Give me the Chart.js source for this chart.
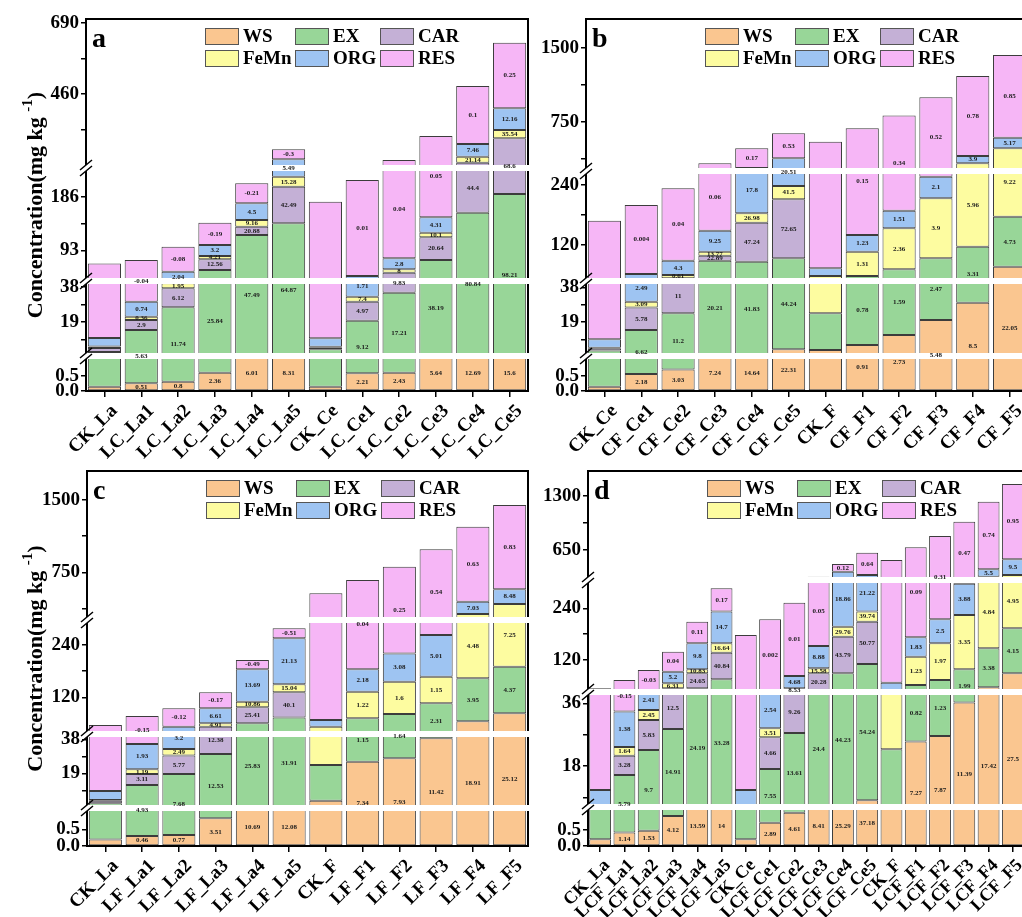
<!DOCTYPE html>
<html>
<head>
<meta charset="utf-8">
<script src="https://cdn.jsdelivr.net/npm/chart.js@4.4.1/dist/chart.umd.min.js"></script>
<style>
  html, body { margin: 0; padding: 0; background: #fff; overflow: hidden; width: 1022px; height: 917px; position: relative; }
  canvas { position: absolute; }
</style>
</head>
<body>
<canvas id="pa" width="545" height="460" style="left:0;top:0"></canvas>
<canvas id="pb" width="545" height="460" style="left:500px;top:0"></canvas>
<canvas id="pc" width="545" height="465" style="left:0;top:452px"></canvas>
<canvas id="pd" width="545" height="465" style="left:500px;top:452px"></canvas>
<script>
// fractions, bottom to top of each bar
const seriesNames = ['WS', 'EX', 'CAR', 'FeMn', 'ORG', 'RES'];
const seriesColors = ['#FAC690', '#98D698', '#C4B0D6', '#FDFCA0', '#9EC4F2', '#F6B6F6'];

// ---- panel a
const aCats = ['CK_La', 'LC_La1', 'LC_La2', 'LC_La3', 'LC_La4', 'LC_La5', 'CK_Ce', 'LC_Ce1', 'LC_Ce2', 'LC_Ce3', 'LC_Ce4', 'LC_Ce5'];
const aWS   = [0.14, 0.26, 0.31, 0.61, 1.16, 1.16, 0.14, 0.59, 0.61, 1.16, 1.16, 1.16];
const aEX   = [2.6, 14.4, 26.7, 58.5, 118.8, 139.1, 4.1, 19.1, 34.3, 75.3, 157.5, 190.1];
const aCAR  = [2.2, 5.4, 10.3, 18.6, 14.4, 63.7, 1.1, 10.3, 19.5, 39.5, 78.8, 125.2];
const aFeMn = [0.8, 1.8, 2.7, 5.7, 11.6, 17.3, 0.2, 2.7, 5.9, 8, 19.4, 26.9];
const aORG  = [4.6, 8.1, 16.1, 19.2, 29, 27.2, 4.7, 16, 19.1, 26.7, 41.1, 70.3];
const aRES  = [59.9, 46.5, 43.5, 38.7, 34.9, 32.5, 167.7, 166.9, 166.8, 173.3, 188, 212.5];
const aTxtWS   = [null, 0.51, 0.8, 2.36, 6.01, 8.31, null, 2.21, 2.43, 5.64, 12.69, 15.6];
const aTxtEX   = [null, 5.63, 11.74, 25.84, 47.49, 64.87, null, 9.12, 17.21, 38.19, 80.84, 98.21];
const aTxtCAR  = [null, 2.9, 6.12, 12.56, 20.88, 42.49, null, 4.97, 9.83, 20.64, 44.4, 68.6];
const aTxtFeMn = [null, 0.36, 1.95, 4.21, 9.16, 15.28, null, 7.4, 8, 10.1, 21.14, 35.54];
const aTxtORG  = [null, 0.74, 2.04, 3.2, 4.5, 5.49, null, 1.71, 2.8, 4.31, 7.46, 12.16];
const aTxtRES  = [null, -0.04, -0.08, -0.19, -0.21, -0.3, null, 0.01, 0.04, 0.05, 0.1, 0.25];
const aTicks = [0, 0.5, 19, 38, 93, 186, 460, 690];
const aTickText = ['0.0', '0.5', '19', '38', '93', '186', '460', '690'];
const aMinor = [9.5, 28.5, 139.5, 345, 575];

// ---- panel b
const bCats = ['CK_Ce', 'CF_Ce1', 'CF_Ce2', 'CF_Ce3', 'CF_Ce4', 'CF_Ce5', 'CK_F', 'CF_F1', 'CF_F2', 'CF_F3', 'CF_F4', 'CF_F5'];
const bWS   = [0.14, 0.57, 0.72, 1.16, 1.16, 4.05, 3.7, 6.4, 11.9, 20.1, 29.6, 76.6];
const bEX   = [3.2, 14.0, 23.1, 87.4, 85.4, 89.4, 20.1, 51.6, 59.5, 73.3, 87, 100];
const bCAR  = [1.3, 12.4, 29.6, 10, 78, 118, null, null, null, null, null, null];
const bFeMn = [0.3, 3.1, 6.6, 8, 18.8, 26.6, 34.2, 48.6, 82, 120, 215, 306.9];
const bORG  = [4.6, 31.9, 28.6, 42, 100.6, 144, 15.4, 33.4, 35.2, 43.2, 74, 107.5];
const bRES  = [159.1, 138, 144.8, 183, 199.5, 253.5, 477, 546, 626.4, 744.4, 810.4, 839];
const bTxtWS   = [null, 2.18, 3.03, 7.24, 14.64, 22.31, null, 0.91, 2.73, 5.48, 8.5, 22.05];
const bTxtEX   = [null, 6.62, 11.2, 20.21, 41.83, 44.24, null, 0.78, 1.59, 2.47, 3.31, 4.73];
const bTxtCAR  = [null, 5.78, 11, 22.89, 47.24, 72.65, null, null, null, null, null, null];
const bTxtFeMn = [null, 3.09, 0.61, 13.77, 26.98, 41.5, null, 1.31, 2.36, 3.9, 5.96, 9.22];
const bTxtORG  = [null, 2.49, 4.3, 9.25, 17.8, 20.51, null, 1.23, 1.51, 2.1, 3.9, 5.17];
const bTxtRES  = [null, 0.004, 0.04, 0.06, 0.17, 0.53, null, 0.15, 0.34, 0.52, 0.78, 0.85];
const bTicks = [0, 0.5, 19, 38, 120, 240, 750, 1500];
const bTickText = ['0.0', '0.5', '19', '38', '120', '240', '750', '1500'];
const bMinor = [9.5, 28.5, 180, 375, 1125];

// ---- panel c
const cCats = ['CK_La', 'LF_La1', 'LF_La2', 'LF_La3', 'LF_La4', 'LF_La5', 'CK_F', 'LF_F1', 'LF_F2', 'LF_F3', 'LF_F4', 'LF_F5'];
const cWS   = [0.2, 0.3, 0.33, 0.84, 1.14, 1.14, 3.7, 25.5, 27.4, 38.6, 64.8, 83.3];
const cEX   = [2.0, 12.2, 18.3, 29, 59.3, 72.6, 19.9, 46.3, 54.3, 67.6, 98.8, 106.8];
const cCAR  = [1.5, 6.1, 10.3, 22.8, 36.6, 57.8, null, null, null, null, null, null];
const cFeMn = [0.4, 2.6, 3.7, 7.8, 12.9, 18.3, 29, 61, 74.1, 61.1, 153.8, 231.1];
const cORG  = [5.0, 14.2, 20, 34.4, 74.3, 105.6, 15.4, 51.4, 64.8, 95.7, 127.9, 152.4];
const cRES  = [47.4, 41.7, 42.2, 36.7, 21.4, 22.9, 464.2, 485.9, 587.4, 725.6, 777.7, 874.4];
const cTxtWS   = [null, 0.46, 0.77, 3.51, 10.69, 12.08, null, 7.34, 7.93, 11.42, 18.91, 25.12];
const cTxtEX   = [null, 4.93, 7.68, 12.53, 25.83, 31.91, null, 1.15, 1.64, 2.31, 3.95, 4.37];
const cTxtCAR  = [null, 3.11, 5.77, 12.38, 25.41, 40.1, null, null, null, null, null, null];
const cTxtFeMn = [null, 1.19, 2.49, 4.91, 10.86, 15.04, null, 1.22, 1.6, 1.15, 4.48, 7.25];
const cTxtORG  = [null, 1.93, 3.2, 6.61, 13.69, 21.13, null, 2.18, 3.08, 5.01, 7.03, 8.48];
const cTxtRES  = [null, -0.15, -0.12, -0.17, -0.49, -0.51, null, 0.04, 0.25, 0.54, 0.63, 0.83];
const cTicks = [0, 0.5, 19, 38, 120, 240, 750, 1500];
const cTickText = ['0.0', '0.5', '19', '38', '120', '240', '750', '1500'];
const cMinor = [9.5, 28.5, 180, 375, 1125];

// ---- panel d
const dCats = ['CK_La', 'LCF_La1', 'LCF_La2', 'LCF_La3', 'LCF_La4', 'LCF_La5', 'CK_Ce', 'LCF_Ce1', 'LCF_Ce2', 'LCF_Ce3', 'LCF_Ce4', 'LCF_Ce5', 'CK_F', 'LCF_F1', 'LCF_F2', 'LCF_F3', 'LCF_F4', 'LCF_F5'];
const dWS   = [0.21, 0.42, 0.48, 0.94, 1.21, 1.21, 0.21, 0.73, 1.04, 1.21, 1.21, 8.2, 1.21, 25, 26.6, 36.2, 56.6, 89];
const dEX   = [6.0, 15, 22.1, 27.7, 53.1, 74, 6.0, 16.4, 26.4, 44.8, 87.8, 102.5, 21.6, 37, 47, 62.2, 90.6, 104.5];
const dCAR  = [null, 5.5, 8.6, 25.7, 34.7, 61.8, null, 9.1, 18.3, 43, 85.1, 98.3, null, null, null, null, null, null];
const dFeMn = [null, 2.5, 2.9, 11.6, 9.4, 21.8, null, 2.6, 8.6, 11.6, 23.2, 23.3, 22.9, 65.7, 85.2, 126.1, 181.5, 155.5];
const dORG  = [4.9, 10.2, 16.3, 26.9, 60.4, 73.5, 4.9, 10.4, 28.6, 51.9, 191.6, 116.7, 21.6, 45, 55.7, 72.5, 89, 189.1];
const dRES  = [43.2, 40, 46.4, 46.5, 50.2, 54.1, 166.9, 175.3, 170.1, 176.2, 92.6, 268.5, 462.4, 509.8, 604, 693.6, 813.3, 905.9];
const dTxtWS   = [null, 1.14, 1.53, 4.12, 13.59, 14, null, 2.89, 4.61, 8.41, 25.29, 37.18, null, 7.27, 7.87, 11.39, 17.42, 27.5];
const dTxtEX   = [null, 5.79, 9.7, 14.91, 24.19, 33.28, null, 7.55, 13.61, 24.4, 44.23, 54.24, null, 0.82, 1.23, 1.99, 3.38, 4.15];
const dTxtCAR  = [null, 3.28, 5.83, 12.5, 24.65, 40.84, null, 4.66, 9.26, 20.28, 43.79, 50.77, null, null, null, null, null, null];
const dTxtFeMn = [null, 1.64, 2.45, 6.31, 10.83, 16.64, null, 3.51, 8.53, 15.58, 29.76, 39.74, null, 1.23, 1.97, 3.35, 4.84, 4.95];
const dTxtORG  = [null, 1.38, 2.41, 5.2, 9.8, 14.7, null, 2.54, 4.68, 8.88, 18.86, 21.22, null, 1.83, 2.5, 3.88, 5.5, 9.5];
const dTxtRES  = [null, -0.15, -0.03, 0.04, 0.11, 0.17, null, 0.002, 0.01, 0.05, 0.12, 0.64, null, 0.09, 0.31, 0.47, 0.74, 0.95];
const dTicks = [0, 0.5, 18, 36, 120, 240, 650, 1300];
const dTickText = ['0.0', '0.5', '18', '36', '120', '240', '650', '1300'];
const dMinor = [9, 27, 180, 975];

// broken axis layout: each piece maps two tick values to pixel offsets from the plot top,
// and is cut to [hi, lo]
const brokenAxes = {
  a: { span: 372, segs: [
    { v0: 0, p0: 372, v1: 0.5, p1: 357, lo: 372, hi: 337 },
    { v0: 19, p0: 303, v1: 38, p1: 268, lo: 337, hi: 262 },
    { v0: 93, p0: 231.5, v1: 186, p1: 178, lo: 262, hi: 149 },
    { v0: 460, p0: 75, v1: 690, p1: 4, lo: 149, hi: 0 }] },
  b: { span: 372, segs: [
    { v0: 0, p0: 372, v1: 0.5, p1: 357, lo: 372, hi: 337 },
    { v0: 19, p0: 303, v1: 38, p1: 268.3, lo: 337, hi: 262 },
    { v0: 120, p0: 226, v1: 240, p1: 166, lo: 262, hi: 152 },
    { v0: 750, p0: 103, v1: 1500, p1: 29, lo: 152, hi: 0 }] },
  c: { span: 375, segs: [
    { v0: 0, p0: 375, v1: 0.5, p1: 358.5, lo: 375, hi: 337 },
    { v0: 19, p0: 302.3, v1: 38, p1: 268.3, lo: 337, hi: 263 },
    { v0: 120, p0: 226.3, v1: 240, p1: 174, lo: 263, hi: 149 },
    { v0: 750, p0: 101.3, v1: 1500, p1: 29, lo: 149, hi: 0 }] },
  d: { span: 375, segs: [
    { v0: 0, p0: 375, v1: 0.5, p1: 359, lo: 375, hi: 336 },
    { v0: 18, p0: 295, v1: 36, p1: 232.3, lo: 336, hi: 221 },
    { v0: 120, p0: 189, v1: 240, p1: 137.3, lo: 221, hi: 109 },
    { v0: 650, p0: 79, v1: 1300, p1: 25, lo: 109, hi: 0 }] }
};
Object.values(brokenAxes).forEach(function(ax) {
  ax.segs.forEach(function(s) {
    s.vmax = s.v0 + (s.hi - s.p0) * (s.v1 - s.v0) / (s.p1 - s.p0);
  });
});

class BrokenScale extends Chart.LinearScale {
  static id = 'broken';
  static defaults = {};
  buildTicks() {
    const o = this.options;
    const vals = o.majorTicks.concat(o.minorTicks).slice().sort((p, q) => p - q);
    return vals.map(v => ({ value: v }));
  }
  getPixelForValue(value) {
    const ax = brokenAxes[this.options.panel];
    let g = ax.segs[ax.segs.length - 1];
    for (const s of ax.segs) { if (value <= s.vmax) { g = s; break; } }
    let p = g.p0 + (value - g.v0) * (g.p1 - g.p0) / (g.v1 - g.v0);
    p = Math.min(g.lo, Math.max(g.hi, p));
    return this.top + p * (this.bottom - this.top) / ax.span;
  }
}
Chart.register(BrokenScale);

const serif = 'Liberation Serif';

const panelDeco = {
  id: 'panelDeco',
  afterDatasetsDraw(chart, args, opts) {
    const ctx = chart.ctx;
    const ca = chart.chartArea;
    const ys = chart.scales.y;
    const ax = brokenAxes[ys.options.panel];
    ctx.save();

    // frame
    ctx.strokeStyle = '#000';
    ctx.lineWidth = 2;
    ctx.strokeRect(ca.left, ca.top, ca.right - ca.left, ca.bottom - ca.top);

    // white gaps of the broken axis and the // marks
    for (let k = 0; k < ax.segs.length - 1; k++) {
      const y = ys.top + ax.segs[k].hi;
      ctx.fillStyle = '#fff';
      ctx.fillRect(ca.left - 2, y - 3, ca.right - ca.left + 4, 6);
      ctx.beginPath();
      [-3, 3].forEach(function(d) {
        ctx.moveTo(ca.left - 6, y + d + 5);
        ctx.lineTo(ca.left + 6, y + d - 5);
      });
      ctx.strokeStyle = '#000';
      ctx.lineWidth = 1.5;
      ctx.stroke();
    }

    // numbers inside the segments
    ctx.font = 'bold 7px "' + serif + '"';
    ctx.fillStyle = '#1a1a1a';
    ctx.textAlign = 'center';
    ctx.textBaseline = 'middle';
    chart.data.datasets.forEach(function(ds, i) {
      const meta = chart.getDatasetMeta(i);
      meta.data.forEach(function(bar, j) {
        const t = ds.txt[j];
        if (t === null || t === undefined) return;
        ctx.fillText(String(t), bar.x, (bar.y + bar.base) / 2);
      });
    });

    // legend, 3 columns x 2 rows inside the plot
    const cols = [119, 209, 294];
    ctx.font = 'bold 19px "' + serif + '"';
    ctx.textAlign = 'left';
    chart.data.datasets.forEach(function(ds, i) {
      const x = ca.left + cols[i % 3];
      const y = ca.top + 9 + Math.floor(i / 3) * 22;
      ctx.fillStyle = ds.backgroundColor;
      ctx.fillRect(x, y, 33, 16);
      ctx.strokeStyle = '#555';
      ctx.lineWidth = 1;
      ctx.strokeRect(x + 0.5, y + 0.5, 33, 16);
      ctx.fillStyle = '#000';
      ctx.fillText(ds.label, x + 38, y + 9);
    });

    // panel letter
    ctx.font = 'bold 28px "' + serif + '"';
    ctx.textBaseline = 'alphabetic';
    ctx.fillText(opts.letter, ca.left + 6, ca.top + 28);

    // y title with superscript
    if (opts.yTitle) {
      ctx.translate(34, (ca.top + ca.bottom) / 2);
      ctx.rotate(-Math.PI / 2);
      const f1 = 'bold 22px "' + serif + '"';
      const f2 = 'bold 15px "' + serif + '"';
      const s1 = 'Concentration(mg kg ', s2 = '-1', s3 = ')';
      ctx.font = f1; const w1 = ctx.measureText(s1).width; const w3 = ctx.measureText(s3).width;
      ctx.font = f2; const w2 = ctx.measureText(s2).width;
      let x = -(w1 + w2 + w3) / 2;
      ctx.font = f1; ctx.fillText(s1, x, 8); x += w1;
      ctx.font = f2; ctx.fillText(s2, x, -2); x += w2;
      ctx.font = f1; ctx.fillText(s3, x, 8);
    }
    ctx.restore();
  }
};

function makePanel(id, cats, vals, txts, ticks, tickText, minor, o) {
  const datasets = seriesNames.map(function(nm, k) {
    return {
      label: nm,
      data: vals[k],
      txt: txts[k],
      backgroundColor: seriesColors[k],
      borderColor: '#3c3c3c',
      borderWidth: 1,
      borderSkipped: false,
      barPercentage: 0.9,
      categoryPercentage: 1
    };
  });
  return new Chart(document.getElementById(id), {
    type: 'bar',
    data: { labels: cats, datasets: datasets },
    options: {
      responsive: false,
      animation: false,
      events: [],
      layout: { padding: o.pad },
      plugins: {
        legend: { display: false },
        tooltip: { enabled: false },
        panelDeco: { letter: o.letter, yTitle: o.yTitle }
      },
      scales: {
        x: {
          type: 'category',
          stacked: true,
          offset: true,
          grid: { display: true, offset: false, drawOnChartArea: false, tickLength: 6, color: '#000', lineWidth: 1.5 },
          border: { display: true, color: '#000', width: 2 },
          ticks: {
            color: '#000',
            font: { family: serif, weight: 'bold', size: o.xFont },
            minRotation: 45, maxRotation: 45, autoSkip: false, padding: 3,
            labelOffset: o.xShift
          },
          afterFit: function(s) { s.height = o.xH; }
        },
        y: {
          type: 'broken',
          panel: o.panel,
          majorTicks: ticks,
          minorTicks: minor,
          stacked: true,
          min: 0,
          max: ticks[ticks.length - 1],
          grid: { display: true, drawOnChartArea: false, tickLength: 5, color: '#000', lineWidth: 1.5 },
          border: { display: true, color: '#000', width: 2 },
          ticks: {
            color: '#000',
            autoSkip: false,
            padding: 2,
            font: { family: serif, weight: 'bold', size: 19 },
            callback: function(v) {
              const i = ticks.indexOf(v);
              return i >= 0 ? tickText[i] : '';
            }
          },
          afterFit: function(s) { s.width = o.yW; }
        }
      }
    },
    plugins: [panelDeco]
  });
}

makePanel('pa', aCats, [aWS, aEX, aCAR, aFeMn, aORG, aRES],
  [aTxtWS, aTxtEX, aTxtCAR, aTxtFeMn, aTxtORG, aTxtRES], aTicks, aTickText, aMinor,
  { panel: 'a', letter: 'a', yTitle: true, pad: { left: 0, top: 19, right: 17, bottom: 0 }, yW: 86, xH: 69, xFont: 19, xShift: 10 });
makePanel('pb', bCats, [bWS, bEX, bCAR, bFeMn, bORG, bRES],
  [bTxtWS, bTxtEX, bTxtCAR, bTxtFeMn, bTxtORG, bTxtRES], bTicks, bTickText, bMinor,
  { panel: 'b', letter: 'b', yTitle: false, pad: { left: 0, top: 19, right: 17, bottom: 0 }, yW: 86, xH: 69, xFont: 19, xShift: 10 });
makePanel('pc', cCats, [cWS, cEX, cCAR, cFeMn, cORG, cRES],
  [cTxtWS, cTxtEX, cTxtCAR, cTxtFeMn, cTxtORG, cTxtRES], cTicks, cTickText, cMinor,
  { panel: 'c', letter: 'c', yTitle: true, pad: { left: 0, top: 19, right: 17, bottom: 0 }, yW: 87, xH: 71, xFont: 19, xShift: 10 });
makePanel('pd', dCats, [dWS, dEX, dCAR, dFeMn, dORG, dRES],
  [dTxtWS, dTxtEX, dTxtCAR, dTxtFeMn, dTxtORG, dTxtRES], dTicks, dTickText, dMinor,
  { panel: 'd', letter: 'd', yTitle: false, pad: { left: 0, top: 19, right: 20, bottom: 0 }, yW: 88, xH: 71, xFont: 18, xShift: 7 });
</script>
</body>
</html>
